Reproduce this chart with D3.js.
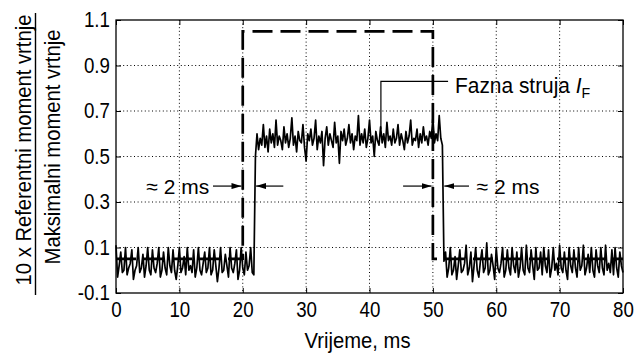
<!DOCTYPE html>
<html><head><meta charset="utf-8">
<script src="https://cdn.jsdelivr.net/npm/d3@7"></script>
<style>
body{margin:0;background:#fff}
svg{display:block}
text{font-family:"Liberation Sans",Arial,sans-serif;fill:#000}
</style>
</head><body>
<svg id="c" width="635" height="357"></svg>
<script>
// ---------- data ----------
const xTicks = [0, 10, 20, 30, 40, 50, 60, 70, 80];
const xTickLabels = ["0", "10", "20", "30", "40", "50", "60", "70", "80"];
const yTicks = [-0.1, 0.1, 0.3, 0.5, 0.7, 0.9, 1.1];
const yTickLabels = ["-0.1", "0.1", "0.3", "0.5", "0.7", "0.9", "1.1"];

// reference torque (dashed)
const refTime = [0, 20, 20, 50, 50, 80];
const refValue = [0.05, 0.05, 1.05, 1.05, 0.05, 0.05];

// phase current samples (every 0.25 ms)
const sampleStep = 0.25;
const currentLow1 = [
0.11, -0.03, 0.02, 0.08, -0.01, 0.00, 0.10, -0.02, 0.01, 0.03, 0.09, -0.04,
0.00, 0.02, 0.10, -0.01, 0.01, 0.07, -0.03, 0.02, 0.10, 0.00, -0.02, 0.09,
0.01, -0.01, 0.03, 0.10, -0.03, 0.00, 0.08, 0.01, -0.02, 0.10, 0.02, -0.01,
0.09, 0.00, -0.04, 0.02, 0.10, -0.01, 0.01, 0.06, -0.02, 0.10, 0.00, 0.02,
-0.01, 0.09, -0.03, 0.01, 0.10, 0.00, -0.02, 0.03, 0.08, -0.01, 0.01, 0.10,
-0.02, 0.00, 0.09, 0.02, -0.05, 0.01, 0.10, -0.01, 0.00, 0.07, 0.02, -0.03,
0.10, 0.01, -0.01, 0.03, 0.09, -0.04, 0.00, 0.10, 0.01, -0.02, 0.08, 0.00,
0.02, 0.10, -0.01, -0.02];
const currentHigh = [
0.50, 0.60, 0.53, 0.58, 0.55, 0.64, 0.54, 0.59, 0.52, 0.62, 0.56, 0.60,
0.54, 0.66, 0.55, 0.59, 0.57, 0.53, 0.63, 0.56, 0.60, 0.54, 0.58, 0.67,
0.55, 0.59, 0.52, 0.61, 0.57, 0.56, 0.64, 0.54, 0.48, 0.60, 0.57, 0.62,
0.55, 0.58, 0.66, 0.53, 0.59, 0.56, 0.61, 0.46, 0.58, 0.63, 0.55, 0.60,
0.57, 0.54, 0.65, 0.56, 0.59, 0.47, 0.61, 0.57, 0.62, 0.55, 0.58, 0.64,
0.56, 0.60, 0.53, 0.59, 0.57, 0.68, 0.55, 0.60, 0.56, 0.62, 0.54, 0.58,
0.66, 0.56, 0.59, 0.50, 0.61, 0.57, 0.55, 0.63, 0.56, 0.60, 0.54, 0.65,
0.57, 0.59, 0.55, 0.62, 0.56, 0.58, 0.64, 0.55, 0.60, 0.57, 0.53, 0.61,
0.56, 0.59, 0.66, 0.55, 0.58, 0.57, 0.62, 0.54, 0.60, 0.56, 0.63, 0.57,
0.59, 0.55, 0.61, 0.58, 0.67, 0.56, 0.60, 0.57, 0.68, 0.58, 0.55];
const currentLow2 = [
0.04, 0.08, -0.03, 0.01, 0.10, -0.02, 0.00, 0.06, -0.04, 0.02, 0.09, -0.01,
0.00, 0.03, 0.11, -0.02, 0.01, 0.08, -0.05, 0.02, 0.10, 0.00, -0.03, 0.04,
0.09, -0.01, 0.01, 0.12, -0.02, 0.00, 0.07, 0.02, -0.04, 0.10, 0.01, -0.01,
0.03, 0.10, -0.03, 0.00, 0.09, 0.01, -0.02, 0.10, 0.02, -0.01, 0.08, -0.03,
0.01, 0.10, 0.00, -0.02, 0.11, 0.01, -0.01, 0.09, 0.02, -0.04, 0.10, 0.00,
0.01, 0.08, -0.02, 0.10, 0.02, -0.01, 0.09, -0.03, 0.01, 0.10, 0.00, 0.03,
-0.02, 0.11, 0.01, -0.01, 0.08, 0.00, -0.04, 0.10, 0.02, -0.01, 0.09, 0.01,
-0.03, 0.10, 0.00, 0.02, 0.11, -0.02, 0.01, 0.07, -0.01, 0.10, 0.00, -0.03,
0.09, 0.02, -0.01, 0.10, 0.01, -0.02, 0.11, 0.00, 0.03, -0.01, 0.09, -0.02,
0.10, 0.01, -0.03, 0.08, 0.02, -0.01];

const xTitle = "Vrijeme, ms";
const yTitleTop = "10 x Referentni moment vrtnje";
const yTitleBottom = "Maksimalni moment vrtnje";
const currentLabel = "Fazna struja ";
const currentSymbol = "I";
const currentSub = "F";
const delayLabel = "\u2248 2 ms";

// ---------- layout ----------
const svg = d3.select("#c");
const L = 116, R = 623, T = 20, B = 293;
const x = d3.scaleLinear().domain([0, 80]).range([L, R]);
const y = d3.scaleLinear().domain([-0.1, 1.1]).range([B, T]);

// grid
const grid = svg.append("g").attr("stroke", "#000").attr("stroke-width", 1)
  .attr("stroke-dasharray", "1,2.6").attr("fill", "none");
xTicks.slice(1, -1).forEach(t => grid.append("line")
  .attr("x1", x(t)).attr("x2", x(t)).attr("y1", T).attr("y2", B));
yTicks.slice(1, -1).forEach(t => grid.append("line")
  .attr("x1", L).attr("x2", R).attr("y1", y(t)).attr("y2", y(t)));

// axes
const fmtX = d => xTickLabels[xTicks.indexOf(d)];
const fmtY = d => yTickLabels[yTicks.indexOf(d)];
const gx = svg.append("g").attr("transform", `translate(0,${B})`)
  .call(d3.axisBottom(x).tickValues(xTicks).tickFormat(fmtX).tickSizeInner(-5).tickSizeOuter(0).tickPadding(9));
const gy = svg.append("g").attr("transform", `translate(${L},0)`)
  .call(d3.axisLeft(y).tickValues(yTicks).tickFormat(fmtY).tickSizeInner(-5).tickSizeOuter(0).tickPadding(7));
const gt = svg.append("g").attr("transform", `translate(0,${T})`)
  .call(d3.axisTop(x).tickValues(xTicks).tickFormat("").tickSizeInner(-5).tickSizeOuter(0));
const gr = svg.append("g").attr("transform", `translate(${R},0)`)
  .call(d3.axisRight(y).tickValues(yTicks).tickFormat("").tickSizeInner(-5).tickSizeOuter(0));
[gx, gy, gt, gr].forEach(g => {
  g.select(".domain").remove();
  g.selectAll(".tick line").attr("stroke", "#000").attr("stroke-width", 1);
});
[gx, gy].forEach(g => g.selectAll(".tick text")
  .attr("font-size", 21.5).attr("fill", "#000")
  .style("font-family", '"Liberation Sans",Arial,sans-serif'));
gx.selectAll(".tick text").attr("transform", "scale(0.87,1)");
gy.selectAll(".tick text").attr("transform", "scale(0.87,1)");

// frame
svg.append("rect").attr("x", L).attr("y", T).attr("width", R - L).attr("height", B - T)
  .attr("fill", "none").attr("stroke", "#000").attr("stroke-width", 1.3);

// reference line
const refPts = refTime.map((t, i) => [x(t), y(refValue[i])]);
svg.append("path").attr("d", d3.line()(refPts)).attr("fill", "none")
  .attr("stroke", "#000").attr("stroke-width", 2.7).attr("stroke-dasharray", "20,8");

// current line
const current = currentLow1.concat(currentHigh, currentLow2);
const curPts = current.map((v, i) => [x(i * sampleStep), y(v)]);
svg.append("path").attr("d", d3.line()(curPts)).attr("fill", "none")
  .attr("stroke", "#000").attr("stroke-width", 1.7).attr("stroke-linejoin", "round");

// arrow marker
svg.append("defs").append("marker").attr("id", "ah")
  .attr("viewBox", "0 0 10 6").attr("refX", 10).attr("refY", 3)
  .attr("markerWidth", 10).attr("markerHeight", 6).attr("markerUnits", "userSpaceOnUse")
  .attr("orient", "auto")
  .append("path").attr("d", "M0,0 L10,3 L0,6 Z").attr("fill", "#000");

const arrowY = y(0.37);
[[15.3, 19.8], [26.4, 22.1], [45.3, 49.8], [55.7, 51.8]].forEach(([a, b]) => {
  svg.append("line").attr("x1", x(a)).attr("x2", x(b)).attr("y1", arrowY).attr("y2", arrowY)
    .attr("stroke", "#000").attr("stroke-width", 1.2).attr("marker-end", "url(#ah)");
});
svg.append("text").attr("x", x(14.7)).attr("y", arrowY + 8).attr("text-anchor", "end")
  .attr("font-size", 21).text(delayLabel);
svg.append("text").attr("x", x(56.9)).attr("y", arrowY + 8).attr("text-anchor", "start")
  .attr("font-size", 21).text(delayLabel);

// leader line for current label
svg.append("path")
  .attr("d", `M${x(41.8)},${y(0.62)} V${y(0.83)} H${x(52.4)}`)
  .attr("fill", "none").attr("stroke", "#000").attr("stroke-width", 1.2);
const lab = svg.append("text").attr("transform", `translate(${x(53.5)},${y(0.78)}) scale(0.95,1)`)
  .attr("font-size", 22);
lab.append("tspan").text(currentLabel);
lab.append("tspan").attr("font-style", "italic").text(currentSymbol);
lab.append("tspan").attr("font-size", 15).attr("dy", 5).text(currentSub);

// axis titles
svg.append("text").attr("transform", `translate(${(L + R) / 2 - 12},348) scale(0.92,1)`)
  .attr("text-anchor", "middle").attr("font-size", 22).text(xTitle);
svg.append("text").attr("transform", "translate(31,150) rotate(-90) scale(0.92,1)")
  .attr("text-anchor", "middle").attr("font-size", 22).text(yTitleTop);
svg.append("line").attr("x1", 35.5).attr("x2", 35.5).attr("y1", 13).attr("y2", 295)
  .attr("stroke", "#000").attr("stroke-width", 1.4);
svg.append("text").attr("transform", "translate(60,147) rotate(-90) scale(0.92,1)")
  .attr("text-anchor", "middle").attr("font-size", 22).text(yTitleBottom);
</script>
</body></html>
